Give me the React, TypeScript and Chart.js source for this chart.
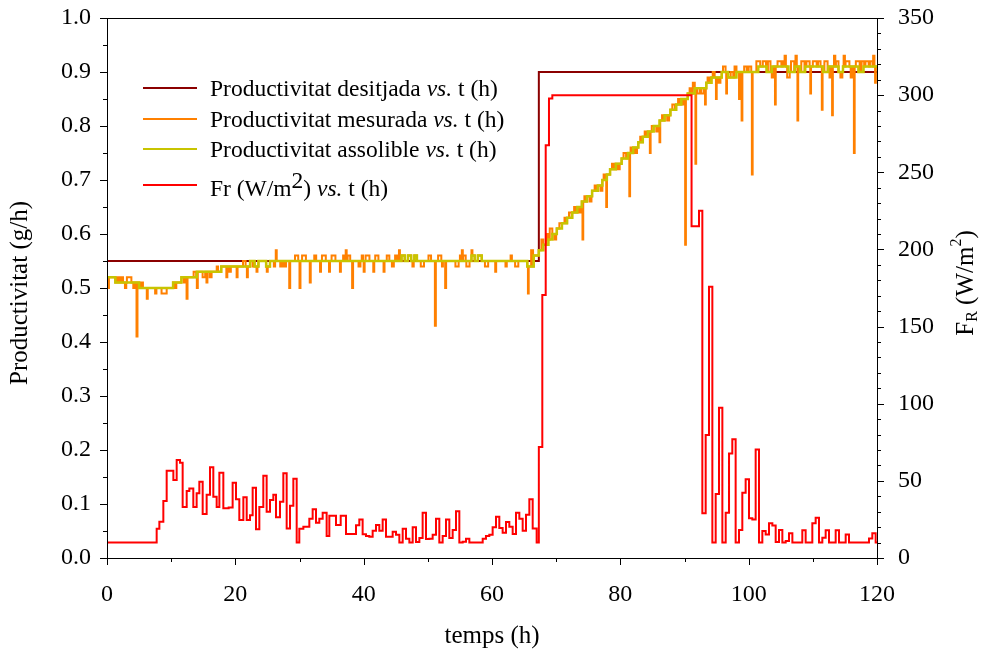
import React, { useEffect, useRef } from 'react';
import { Chart, registerables } from 'chart.js';

Chart.register(...registerables);

// ---------- data ----------
const X_MIN = 0;
const X_MAX = 120;
const Y_MIN = 0;
const Y_MAX = 1.0;
const Y2_MIN = 0;
const Y2_MAX = 350;

// desired productivity (step series: start time, value)
const DESIRED_T = [0, 67.3, 120];
const DESIRED_V = [0.55, 0.9, 0.9];

// achievable productivity (step series)
const GREEN_T = [
  0, 1.3, 5.0, 10.3, 11.6, 14.0, 17.8, 22.3, 23.0, 23.6, 24.8, 25.4,
  45.9, 46.4, 46.9, 47.4, 47.9, 48.3, 56.8, 57.3, 57.8, 58.4, 65.5, 66.5,
  67.3, 68.0, 68.8, 69.4, 70.1, 70.9, 71.7, 72.5, 73.3, 74.0, 74.8, 75.6,
  76.5, 77.2, 77.9, 78.4, 79.3, 80.2, 81.2, 82.0, 82.8, 83.5, 84.3, 85.2,
  86.1, 86.9, 87.8, 88.7, 89.5, 90.5, 91.6, 93.4, 94.2, 95.8, 96.8, 98.1,
  101.5, 102.8, 103.6, 106.2, 107.2, 108.0, 108.8, 111.6, 112.4, 114.0,
  114.7, 117.1, 117.9,
];
const GREEN_V = [
  0.52, 0.51, 0.50, 0.51, 0.52, 0.53, 0.54, 0.55, 0.54, 0.55, 0.54, 0.55,
  0.56, 0.55, 0.56, 0.55, 0.56, 0.55, 0.56, 0.55, 0.56, 0.55, 0.54, 0.56,
  0.57, 0.58, 0.59, 0.60, 0.61, 0.62, 0.63, 0.64, 0.65, 0.66, 0.67, 0.68,
  0.69, 0.70, 0.71, 0.72, 0.73, 0.74, 0.75, 0.76, 0.77, 0.78, 0.79, 0.80,
  0.81, 0.82, 0.83, 0.84, 0.85, 0.86, 0.87, 0.88, 0.89, 0.90, 0.89, 0.90,
  0.91, 0.90, 0.91, 0.90, 0.91, 0.90, 0.91, 0.90, 0.91, 0.90,
  0.91, 0.90, 0.91,
];

// measured productivity: deviations from the achievable level [start, duration, value]
const ORANGE_DEVIATIONS: [number, number, number][] = [
  [0.0, 0.3, 0.50], [1.6, 0.3, 0.52], [2.2, 0.3, 0.52], [2.8, 0.2, 0.50],
  [3.1, 0.7, 0.52], [4.1, 0.3, 0.50], [4.6, 0.15, 0.41], [5.3, 0.3, 0.51],
  [6.2, 0.15, 0.48], [7.5, 0.2, 0.49], [8.5, 0.8, 0.49], [10.5, 0.3, 0.50],
  [11.2, 0.3, 0.51], [12.0, 0.3, 0.51], [12.4, 0.15, 0.48], [13.5, 0.4, 0.53],
  [14.0, 0.15, 0.50], [14.9, 0.4, 0.52], [15.5, 0.15, 0.51], [16.0, 0.3, 0.52],
  [17.1, 0.2, 0.54], [18.6, 0.15, 0.52], [19.0, 0.3, 0.53], [20.2, 0.15, 0.52],
  [21.2, 0.4, 0.55], [21.8, 0.15, 0.52], [22.7, 0.2, 0.54], [23.3, 0.15, 0.53],
  [24.3, 0.3, 0.55], [24.9, 0.15, 0.53], [26.0, 0.2, 0.54], [26.3, 0.15, 0.57],
  [27.0, 0.3, 0.54], [27.6, 0.3, 0.54], [28.4, 0.15, 0.50], [29.3, 0.5, 0.56],
  [30.0, 0.15, 0.50], [30.4, 0.6, 0.56], [31.6, 0.15, 0.51], [32.3, 0.3, 0.56],
  [33.2, 0.15, 0.53], [33.5, 0.6, 0.56], [34.6, 0.15, 0.53], [35.0, 0.6, 0.56],
  [36.3, 0.15, 0.53], [36.8, 0.3, 0.56], [37.2, 0.15, 0.57], [37.5, 0.4, 0.56],
  [38.2, 0.15, 0.50], [39.2, 0.3, 0.54], [39.7, 0.2, 0.56], [40.0, 0.15, 0.53],
  [40.3, 0.6, 0.56], [41.5, 0.15, 0.53], [41.8, 0.5, 0.56], [43.1, 0.15, 0.53],
  [43.6, 0.4, 0.56], [44.4, 0.3, 0.54], [44.9, 0.3, 0.56], [45.5, 0.15, 0.57],
  [47.6, 0.2, 0.54], [48.9, 0.5, 0.54], [50.1, 0.4, 0.56], [51.1, 0.15, 0.43],
  [51.6, 0.5, 0.56], [52.2, 0.15, 0.54], [52.7, 0.15, 0.50], [54.3, 0.5, 0.54],
  [55.0, 0.3, 0.56], [55.3, 0.15, 0.57], [55.5, 0.4, 0.56], [56.0, 0.5, 0.54],
  [56.8, 0.15, 0.57], [58.9, 0.5, 0.54], [60.5, 0.15, 0.53], [62.1, 0.2, 0.54],
  [62.9, 0.2, 0.56], [63.6, 0.5, 0.54], [65.6, 0.12, 0.49],
  [66.1, 0.3, 0.57], [67.7, 0.3, 0.59], [68.5, 0.3, 0.60], [69.0, 0.4, 0.61],
  [69.7, 0.3, 0.59], [70.5, 0.4, 0.62], [71.3, 0.3, 0.63], [72.0, 0.4, 0.64],
  [72.8, 0.3, 0.65], [73.6, 0.3, 0.64], [74.1, 0.12, 0.59], [74.4, 0.3, 0.67],
  [75.2, 0.3, 0.66], [76.0, 0.3, 0.69], [76.9, 0.3, 0.68], [77.4, 0.3, 0.71],
  [77.8, 0.12, 0.65], [78.7, 0.3, 0.73], [79.6, 0.3, 0.72], [80.5, 0.4, 0.75],
  [81.4, 0.12, 0.67], [81.6, 0.3, 0.76], [82.3, 0.3, 0.75], [83.1, 0.3, 0.78],
  [83.8, 0.3, 0.79], [84.6, 0.12, 0.75], [84.9, 0.3, 0.80], [85.6, 0.3, 0.79],
  [86.1, 0.12, 0.77], [86.5, 0.3, 0.82], [87.3, 0.3, 0.81], [88.1, 0.4, 0.84],
  [89.0, 0.3, 0.85], [89.6, 0.3, 0.84], [90.1, 0.12, 0.58], [90.8, 0.3, 0.87],
  [91.3, 0.3, 0.88], [91.7, 0.12, 0.73], [92.0, 0.4, 0.86], [92.6, 0.4, 0.86],
  [93.2, 0.12, 0.84], [93.6, 0.3, 0.89], [94.4, 0.3, 0.90], [94.9, 0.12, 0.85],
  [95.3, 0.3, 0.88], [96.0, 0.4, 0.91], [96.5, 0.12, 0.86], [97.2, 0.4, 0.90],
  [97.8, 0.3, 0.91], [98.5, 0.12, 0.85], [98.9, 0.12, 0.81], [99.3, 0.4, 0.91],
  [100.0, 0.4, 0.91], [100.5, 0.12, 0.71], [100.8, 0.4, 0.90], [101.2, 0.6, 0.92],
  [102.2, 0.5, 0.92], [103.0, 0.4, 0.92], [103.6, 0.3, 0.89], [104.1, 0.12, 0.84],
  [104.5, 0.6, 0.92], [105.3, 0.3, 0.92], [105.6, 0.2, 0.93], [106.0, 0.4, 0.89],
  [106.6, 0.5, 0.92], [107.3, 0.2, 0.93], [107.6, 0.12, 0.81], [108.2, 0.5, 0.92],
  [109.0, 0.5, 0.92], [109.6, 0.12, 0.86], [110.0, 0.6, 0.92], [110.8, 0.4, 0.92],
  [111.4, 0.12, 0.83], [111.8, 0.5, 0.92], [112.6, 0.3, 0.89], [113.0, 0.12, 0.82],
  [113.3, 0.2, 0.93], [113.6, 0.4, 0.92], [114.3, 0.3, 0.89], [114.8, 0.2, 0.93],
  [115.1, 0.6, 0.92], [115.9, 0.3, 0.89], [116.4, 0.12, 0.75], [116.7, 0.6, 0.92],
  [117.6, 0.4, 0.92], [118.2, 0.5, 0.92], [118.9, 0.4, 0.92], [119.4, 0.2, 0.93],
  [119.7, 0.12, 0.88],
];

// Fr (W/m2) step series: start time, value
const FR_T = [
  0, 7.74, 8.16, 8.78, 9.30, 10.34, 10.86, 11.38, 11.79, 12.42, 12.83, 13.45,
  13.97, 14.39, 14.91, 15.53, 16.05, 16.57, 17.09, 17.51, 18.13, 18.96, 19.58,
  20.10, 20.62, 21.25, 21.77, 22.29, 22.70, 23.22, 23.74, 24.36, 24.88, 25.40,
  25.92, 26.34, 26.96, 27.48, 28.0, 28.52, 29.04, 29.56, 29.97, 30.60, 31.53,
  32.05, 32.57, 33.09, 33.61, 34.23, 34.65, 35.69, 36.42, 37.25, 38.81, 39.32,
  39.84, 40.36, 40.88, 41.40, 41.92, 42.44, 42.96, 43.48, 44.52, 45.04, 45.56,
  46.08, 46.60, 47.12, 47.64, 48.16, 48.68, 49.19, 49.71, 50.23, 50.75, 51.27,
  51.79, 52.31, 52.83, 53.35, 53.87, 54.39, 54.91, 55.43, 55.95, 56.47, 58.55,
  59.06, 59.58, 60.10, 60.62, 61.14, 61.66, 62.18, 62.70, 63.22, 63.74, 64.26,
  64.78, 65.30, 65.82, 66.34, 66.96, 67.30, 67.84, 68.37, 68.88, 69.40, 91.10,
  92.26, 92.78, 93.30, 93.82, 94.34, 94.86, 95.38, 95.90, 96.42, 96.94, 97.45,
  97.97, 98.49, 99.01, 99.53, 100.05, 100.57, 101.09, 101.61, 102.13, 102.65,
  103.17, 103.69, 104.21, 104.73, 105.25, 105.77, 106.29, 106.81, 108.36, 108.88,
  109.92, 110.44, 110.96, 111.48, 112.0, 112.52, 113.56, 114.08, 115.12, 115.64,
  118.75, 119.27, 119.79,
];
const FR_V = [
  10, 19, 23.5, 37, 56.6, 50.5, 63.5, 61.8, 33, 43.4, 45, 33,
  42, 49.5, 28.5, 41, 58.8, 39.7, 33, 55.3, 32.2, 32.8, 48.8,
  38, 24.6, 39.3, 24.6, 27.7, 45.6, 18.6, 33, 53.3, 30, 37.6,
  41, 26.4, 36.5, 54.9, 19.2, 33.9, 51.4, 10, 19, 20.3, 25.5,
  31.6, 22.9, 25.5, 29.4, 14.3, 27.4, 21.4, 27.4, 15.6, 21.2, 25,
  15.4, 14.3, 13.8, 17.7, 21.4, 17.7, 25, 13.8, 17, 15.1, 10,
  19, 12.5, 10, 19.9, 10.4, 13, 29.4, 12.3, 12.5, 15.1, 25.5,
  10, 14.3, 25, 13, 18.1, 30.3, 10, 10.6, 12.5, 10, 12.5,
  14.3, 15.1, 19.9, 26.8, 19.5, 16.4, 23.3, 20.3, 15.6, 29.4, 25.5,
  17.7, 28.1, 38, 19.2, 10, 72, 170.4, 267.6, 297.9, 300, 215,
  225, 29, 79.7, 175.8, 10, 41.5, 97.4, 10, 29.4, 67.8, 76.9,
  10, 18.1, 42.3, 51, 25.7, 25, 70.4, 10, 17.5, 15.3,
  22.5, 21, 10.4, 18.1, 10, 11, 16, 10, 18, 10,
  22.5, 26.1, 10, 13.2, 18, 10, 18, 10, 15.3, 10,
  12.7, 16, 10,
];

const LEGEND_LABELS = [
  'Productivitat desitjada',
  'Productivitat mesurada',
  'Productivitat assolible',
];

const COLORS = {
  desired: '#8b0000',
  measured: '#ff8000',
  achievable: '#c8c400',
  fr: '#ff0000',
};

// ---------- helpers ----------
type Pt = { x: number; y: number };

function stepPoints(ts: number[], vs: number[], end: number): Pt[] {
  const pts = ts.map((t, i) => ({ x: t, y: vs[i] }));
  pts.push({ x: end, y: vs[vs.length - 1] });
  return pts;
}

function greenAt(t: number): number {
  let v = GREEN_V[0];
  for (let i = 0; i < GREEN_T.length; i++) {
    if (GREEN_T[i] <= t) v = GREEN_V[i];
    else break;
  }
  return v;
}

function buildMeasured(): Pt[] {
  const ev = [...ORANGE_DEVIATIONS].sort((a, b) => a[0] - b[0]);
  const pts: Pt[] = [];
  let cursor = X_MIN;
  if (ev.length === 0 || ev[0][0] > X_MIN) pts.push({ x: X_MIN, y: greenAt(X_MIN) });
  const between = (a: number, b: number) => {
    for (let i = 0; i < GREEN_T.length; i++) {
      if (GREEN_T[i] > a && GREEN_T[i] < b) pts.push({ x: GREEN_T[i], y: GREEN_V[i] });
    }
  };
  for (const [t0, d, v] of ev) {
    between(cursor, t0);
    pts.push({ x: t0, y: v });
    const t1 = t0 + d;
    pts.push({ x: t1, y: greenAt(t1) });
    cursor = t1;
  }
  between(cursor, X_MAX);
  pts.push({ x: X_MAX, y: greenAt(X_MAX) });
  return pts;
}

const SERIF = '"Liberation Serif", "Times New Roman", serif';

function drawRich(
  ctx: CanvasRenderingContext2D,
  parts: { t: string; style?: string; shift?: number; size?: number }[],
  x: number,
  y: number,
  baseSize: number,
  align: 'left' | 'center'
) {
  const fontOf = (p: any) =>
    `${p.style || 'normal'} ${p.size || baseSize}px ${SERIF}`;
  let total = 0;
  for (const p of parts) {
    ctx.font = fontOf(p);
    total += ctx.measureText(p.t).width;
  }
  let cx = align === 'center' ? x - total / 2 : x;
  for (const p of parts) {
    ctx.font = fontOf(p);
    ctx.fillText(p.t, cx, y + (p.shift || 0));
    cx += ctx.measureText(p.t).width;
  }
}

const framePlugin = {
  id: 'frameAndText',
  afterDraw(chart: any) {
    const { ctx, chartArea: a, scales } = chart;
    const xs = scales.x;
    const ys = scales.y;
    const y2 = scales.y2;
    ctx.save();
    ctx.strokeStyle = '#000';
    ctx.lineWidth = 1;
    // frame
    ctx.strokeRect(Math.round(a.left) + 0.5, Math.round(a.top) + 0.5, Math.round(a.right - a.left), Math.round(a.bottom - a.top));
    ctx.beginPath();
    // x ticks
    for (let v = X_MIN; v <= X_MAX + 1e-9; v += 10) {
      const px = Math.round(xs.getPixelForValue(v)) + 0.5;
      const len = Math.abs(v % 20) < 1e-6 ? 7 : 4;
      ctx.moveTo(px, a.bottom);
      ctx.lineTo(px, a.bottom + len);
    }
    // left ticks
    for (let i = 0; i <= 20; i++) {
      const v = i * 0.05;
      const py = Math.round(ys.getPixelForValue(v)) + 0.5;
      const len = i % 2 === 0 ? 7 : 4;
      ctx.moveTo(a.left, py);
      ctx.lineTo(a.left - len, py);
    }
    // right ticks
    for (let v = Y2_MIN; v <= Y2_MAX + 1e-9; v += 10) {
      const py = Math.round(y2.getPixelForValue(v)) + 0.5;
      const len = v % 50 === 0 ? 7 : 4;
      ctx.moveTo(a.right, py);
      ctx.lineTo(a.right + len, py);
    }
    ctx.stroke();

    ctx.fillStyle = '#000';
    ctx.textBaseline = 'middle';
    ctx.textAlign = 'left';
    // axis titles
    ctx.save();
    ctx.translate(20, (a.top + a.bottom) / 2 + 5);
    ctx.rotate(-Math.PI / 2);
    drawRich(ctx, [{ t: 'Productivitat (g/h)' }], 0, 0, 25, 'center');
    ctx.restore();

    drawRich(ctx, [{ t: 'temps (h)' }], (a.left + a.right) / 2, 636, 25, 'center');

    ctx.save();
    ctx.translate(966, (a.top + a.bottom) / 2 - 5);
    ctx.rotate(-Math.PI / 2);
    drawRich(
      ctx,
      [
        { t: 'F' },
        { t: 'R', size: 16, shift: 7 },
        { t: ' (W/m' },
        { t: '2', size: 16, shift: -9 },
        { t: ')' },
      ],
      0,
      0,
      25,
      'center'
    );
    ctx.restore();

    // legend
    const rows = [
      { c: COLORS.desired, y: 88, label: LEGEND_LABELS[0] },
      { c: COLORS.measured, y: 119, label: LEGEND_LABELS[1] },
      { c: COLORS.achievable, y: 149, label: LEGEND_LABELS[2] },
    ];
    ctx.lineWidth = 2;
    for (const r of rows) {
      ctx.strokeStyle = r.c;
      ctx.beginPath();
      ctx.moveTo(143, r.y);
      ctx.lineTo(197, r.y);
      ctx.stroke();
      drawRich(
        ctx,
        [{ t: r.label + ' ' }, { t: 'vs.', style: 'italic' }, { t: ' t (h)' }],
        210,
        r.y + 2,
        23.5,
        'left'
      );
    }
    ctx.strokeStyle = COLORS.fr;
    ctx.beginPath();
    ctx.moveTo(143, 185);
    ctx.lineTo(197, 185);
    ctx.stroke();
    drawRich(
      ctx,
      [
        { t: 'Fr (W/m' },
        { t: '2', shift: -8, size: 23.5 },
        { t: ') ' },
        { t: 'vs.', style: 'italic' },
        { t: ' t (h)' },
      ],
      210,
      190,
      23.5,
      'left'
    );
    ctx.restore();
  },
};

export default function App() {
  const ref = useRef<HTMLCanvasElement | null>(null);

  useEffect(() => {
    document.body.style.margin = '0';
    const canvas = ref.current;
    if (!canvas) return;
    const tickFont = { family: SERIF, size: 24 };
    const chart = new Chart(canvas, {
      type: 'line',
      data: {
        datasets: [
          {
            label: 'Fr',
            data: stepPoints(FR_T, FR_V, X_MAX),
            yAxisID: 'y2',
            borderColor: COLORS.fr,
            borderWidth: 2,
            stepped: true,
            pointRadius: 0,
            order: 0,
          },
          {
            label: 'assolible',
            data: stepPoints(GREEN_T, GREEN_V, X_MAX),
            yAxisID: 'y',
            borderColor: COLORS.achievable,
            borderWidth: 2.5,
            stepped: true,
            pointRadius: 0,
            order: 1,
          },
          {
            label: 'mesurada',
            data: buildMeasured(),
            yAxisID: 'y',
            borderColor: COLORS.measured,
            borderWidth: 2,
            stepped: true,
            pointRadius: 0,
            order: 2,
          },
          {
            label: 'desitjada',
            data: stepPoints(DESIRED_T.slice(0, -1), DESIRED_V.slice(0, -1), X_MAX),
            yAxisID: 'y',
            borderColor: COLORS.desired,
            borderWidth: 2,
            stepped: true,
            pointRadius: 0,
            order: 3,
          },
        ],
      },
      options: {
        responsive: false,
        animation: false,
        devicePixelRatio: 1,
        layout: { padding: { top: 18, left: 0, right: 0, bottom: 0 } },
        plugins: { legend: { display: false }, tooltip: { enabled: false } },
        scales: {
          x: {
            type: 'linear',
            min: X_MIN,
            max: X_MAX,
            grid: { display: false, drawTicks: false },
            border: { display: false },
            ticks: {
              stepSize: 20,
              font: tickFont,
              color: '#000',
              padding: 22,
              autoSkip: false,
              maxRotation: 0,
            },
            afterFit: (s: any) => {
              s.height = 99;
              s.paddingLeft = 0;
              s.paddingRight = 0;
            },
          },
          y: {
            type: 'linear',
            position: 'left',
            min: Y_MIN,
            max: Y_MAX,
            grid: { display: false, drawTicks: false },
            border: { display: false },
            ticks: {
              stepSize: 0.1,
              font: tickFont,
              color: '#000',
              padding: 16,
              callback: (v: any) => Number(v).toFixed(1),
            },
            afterFit: (s: any) => {
              s.width = 107;
              s.paddingTop = 0;
              s.paddingBottom = 0;
            },
          },
          y2: {
            type: 'linear',
            position: 'right',
            min: Y2_MIN,
            max: Y2_MAX,
            grid: { display: false, drawTicks: false },
            border: { display: false },
            ticks: {
              stepSize: 50,
              font: tickFont,
              color: '#000',
              padding: 21,
            },
            afterFit: (s: any) => {
              s.width = 115;
              s.paddingTop = 0;
              s.paddingBottom = 0;
            },
          },
        },
      },
      plugins: [framePlugin],
    } as any);
    return () => chart.destroy();
  }, []);

  return (
    <div style={{ width: 992, height: 657, background: '#fff' }}>
      <canvas ref={ref} width={992} height={657} style={{ display: 'block' }} />
    </div>
  );
}
